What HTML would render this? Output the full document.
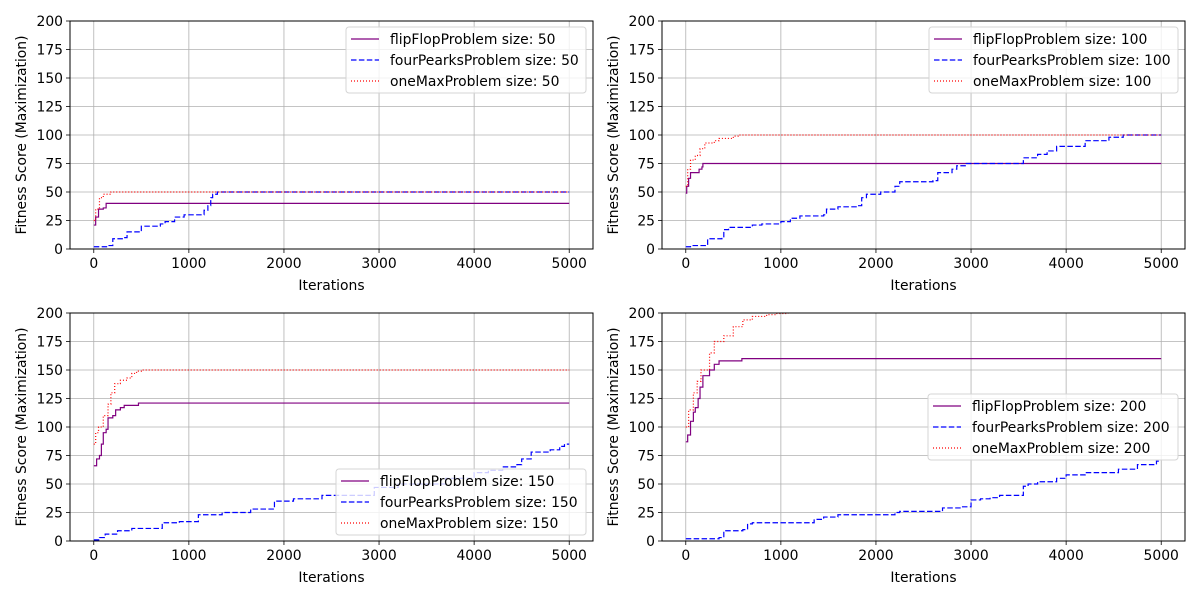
<!DOCTYPE html>
<html><head><meta charset="utf-8"><style>
body{margin:0;background:#fff}
svg text{font-family:"DejaVu Sans","Liberation Sans",sans-serif;fill:#000}
</style></head><body>
<svg id="fig" width="1200" height="600" xmlns="http://www.w3.org/2000/svg"></svg>
<script>
const ffP1=[[0,21],[20,28],[50,35],[100,36],[130,40],[5000,40]];
const fpP1=[[0,2],[150,3],[200,9],[300,10],[350,15],[500,20],[700,22],[750,24],[850,28],[950,30],[1160,34],[1200,38],[1230,45],[1250,48],[1300,50],[5000,50]];
const omP1=[[0,25],[20,35],[60,45],[100,48],[180,50],[5000,50]];
const ffP2=[[0,49],[10,55],[30,62],[50,67],[140,70],[170,72],[180,75],[5000,75]];
const fpP2=[[0,2],[50,3],[230,9],[380,10],[400,17],[450,19],[700,21],[800,22],[1000,24],[1100,27],[1200,29],[1450,30],[1480,35],[1600,37],[1800,38],[1850,45],[1900,48],[2050,50],[2200,55],[2250,59],[2600,60],[2650,67],[2800,70],[2850,73],[2950,75],[3550,80],[3700,83],[3800,86],[3900,90],[4200,95],[4450,98],[4600,100],[5000,100]];
const omP2=[[0,55],[20,70],[50,78],[100,82],[150,88],[200,93],[300,95],[350,97],[500,99],[550,100],[5000,100]];
const ffP3=[[0,66],[30,72],[60,75],[80,85],[100,95],[130,98],[150,108],[200,110],[230,115],[280,117],[320,119],[470,121],[5000,121]];
const fpP3=[[0,1],[60,3],[120,6],[250,9],[400,11],[720,16],[900,17],[1100,23],[1350,25],[1650,28],[1900,35],[2100,37],[2400,40],[2950,47],[3200,50],[3700,55],[4000,60],[4150,62],[4300,65],[4450,67],[4500,72],[4600,78],[4800,80],[4900,83],[4950,85],[5000,85]];
const omP3=[[0,85],[20,95],[50,100],[100,110],[150,120],[180,130],[220,138],[280,141],[350,143],[400,147],[450,149],[500,150],[5000,150]];
const ffP4=[[0,87],[20,93],[50,105],[80,113],[100,117],[130,125],[150,135],[180,145],[250,150],[300,155],[350,158],[590,160],[5000,160]];
const fpP4=[[0,2],[350,3],[400,9],[600,10],[650,15],[700,16],[1350,19],[1450,21],[1600,23],[2200,25],[2250,26],[2700,29],[2900,30],[3000,36],[3100,37],[3200,38],[3300,40],[3550,48],[3600,50],[3700,52],[3900,55],[4000,58],[4200,60],[4550,63],[4750,67],[4950,70],[5000,70]];
const omP4=[[0,100],[30,115],[80,130],[120,140],[160,150],[250,165],[300,175],[400,180],[500,188],[600,194],[700,197],[850,198.5],[950,199.5],[1050,200],[1100,205],[5000,205]];
const sizes=[50,100,150,200];
const xTicks=[0,1000,2000,3000,4000,5000];
const yTicks=[0,25,50,75,100,125,150,175,200];
const panels=[
 {l:70,t:21,w:523,h:228,ff:ffP1,fp:fpP1,om:omP1,lx:346,ly:27,lw:240},
 {l:662,t:21,w:523,h:228,ff:ffP2,fp:fpP2,om:omP2,lx:929,ly:27,lw:249},
 {l:70,t:313,w:523,h:228,ff:ffP3,fp:fpP3,om:omP3,lx:336,ly:469,lw:250},
 {l:662,t:313,w:523,h:228,ff:ffP4,fp:fpP4,om:omP4,lx:928,ly:394,lw:250}];
const NS="http://www.w3.org/2000/svg";
const fig=document.getElementById('fig');
function mk(tag,attrs,parent){const e=document.createElementNS(NS,tag);for(const k in attrs)e.setAttribute(k,attrs[k]);(parent||fig).appendChild(e);return e;}
panels.forEach((p,i)=>{
 const g=mk('g',{});
 
 
 const X=v=>p.l+(v+250)/5500*p.w, Y=v=>p.t+p.h-(v/200)*p.h;
 const cid='clip'+i;
 const cp=mk('clipPath',{id:cid},g);mk('rect',{x:p.l,y:p.t,width:p.w,height:p.h},cp);
 xTicks.forEach(v=>{
  const gl=mk('line',{x1:X(v),x2:X(v),y1:p.t,y2:p.t+p.h,stroke:'#b0b0b0','stroke-width':0.8},g);
  
  mk('line',{x1:X(v),x2:X(v),y1:p.t+p.h,y2:p.t+p.h+4,stroke:'#000','stroke-width':0.8},g);
  const tx=mk('text',{x:X(v),y:p.t+p.h+19,'text-anchor':'middle','font-size':13.9},g);tx.textContent=v;
  
 });
 yTicks.forEach(v=>{
  const gl=mk('line',{x1:p.l,x2:p.l+p.w,y1:Y(v),y2:Y(v),stroke:'#b0b0b0','stroke-width':0.8},g);
  
  mk('line',{x1:p.l-4,x2:p.l,y1:Y(v),y2:Y(v),stroke:'#000','stroke-width':0.8},g);
  const tx=mk('text',{x:p.l-7,y:Y(v)+5,'text-anchor':'end','font-size':13.9},g);tx.textContent=v;
  
 });
 const series=[[p.om,'red','1,2','onemax'],[p.fp,'blue','5.5,2.4','fourpeaks'],[p.ff,'purple','','flipflop']];
 const drawOrder=[series[2],series[1],series[0]];
 drawOrder.forEach(s=>{
  let d='';s[0].forEach((pt,k)=>{
   if(k===0)d+='M'+X(pt[0])+','+Y(pt[1]);
   else d+='L'+X(pt[0])+','+Y(s[0][k-1][1])+'L'+X(pt[0])+','+Y(pt[1]);
  });
  const a={d:d,fill:'none',stroke:s[1],'stroke-width':1.2,'clip-path':'url(#'+cid+')'};
  if(s[2])a['stroke-dasharray']=s[2];
  const pa=mk('path',a,g);
  
 });
 const fr=mk('rect',{x:p.l,y:p.t,width:p.w,height:p.h,fill:'none',stroke:'#000','stroke-width':1},g);
 
 const xl=mk('text',{x:p.l+p.w/2,y:p.t+p.h+41,'text-anchor':'middle','font-size':13.9},g);xl.textContent='Iterations';
 
 const yl=mk('text',{x:0,y:0,'text-anchor':'middle','font-size':13.9,transform:'translate('+(p.l-44)+','+(p.t+p.h/2)+') rotate(-90)'},g);yl.textContent='Fitness Score (Maximization)';
 
 const lg=mk('g',{},g);
 
 mk('rect',{x:p.lx,y:p.ly,width:p.lw,height:66,rx:3,fill:'rgba(255,255,255,0.8)',stroke:'#d5d5d5','stroke-width':1},lg);
 const names=['flipFlopProblem','fourPearksProblem','oneMaxProblem'];
 const st=[['purple',''],['blue','5.5,2.4'],['red','1,2']];
 names.forEach((n,k)=>{
  const yy=p.ly+12+k*21;
  const la={x1:p.lx+5,x2:p.lx+33,y1:yy,y2:yy,stroke:st[k][0],'stroke-width':1.2};
  if(st[k][1])la['stroke-dasharray']=st[k][1];
  mk('line',la,lg);
  const t=mk('text',{x:p.lx+44,y:yy+5,'font-size':13.9},lg);t.textContent=n+' size: '+sizes[i];
  
 });
});
</script>
</body></html>
